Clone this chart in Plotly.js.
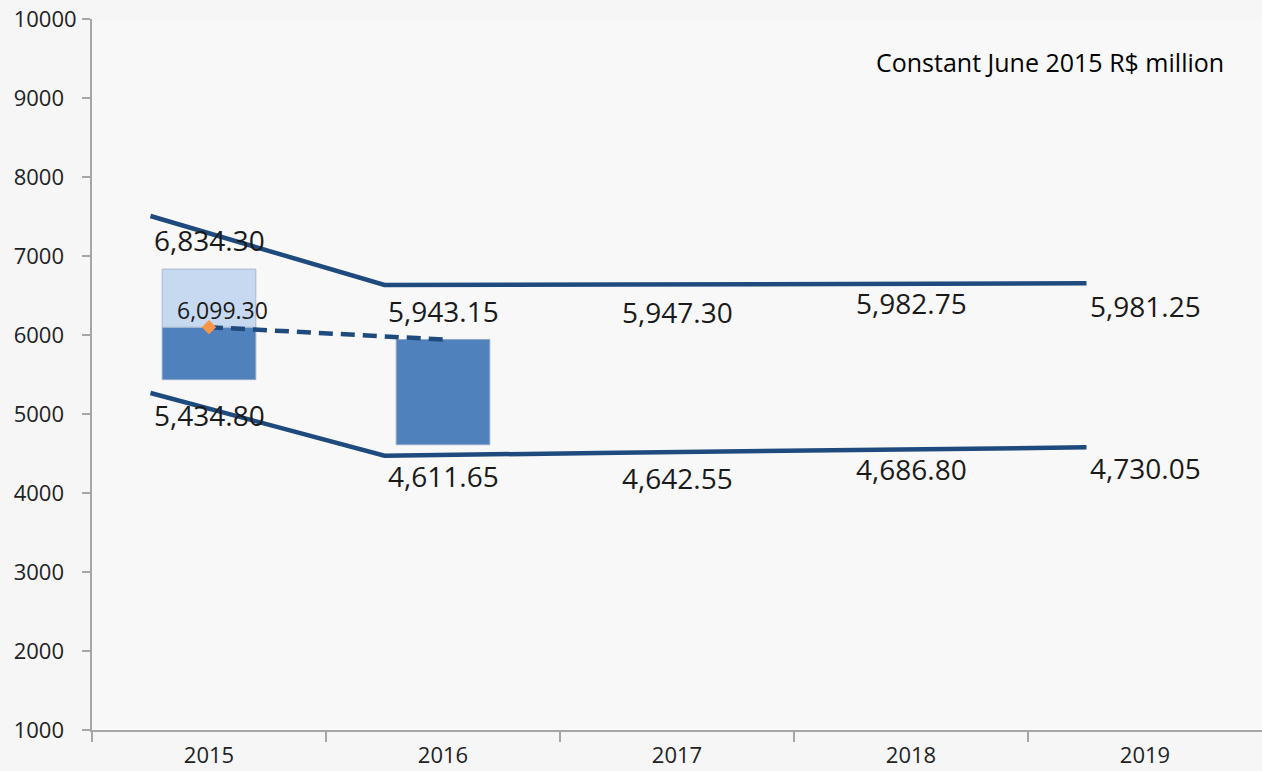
<!DOCTYPE html>
<html>
<head>
<meta charset="utf-8">
<script src="https://cdn.plot.ly/plotly-3.0.1.min.js"></script>
<style>html,body{margin:0;padding:0;background:#f6f6f6;}#chart{width:1262px;height:771px;}</style>
</head>
<body>
<div id="chart"></div>
<script>
// ---- data ----
var years = ['2015', '2016', '2017', '2018', '2019'];
var upperLine = [7506, 6633, 6638, 6646, 6654];
var lowerLine = [5266, 4472, 4510, 4545, 4578];
var upperLabels = ['6,834.30', '5,943.15', '5,947.30', '5,982.75', '5,981.25'];
var lowerLabels = ['5,434.80', '4,611.65', '4,642.55', '4,686.80', '4,730.05'];
var barYears = ['2015', '2016'];
var barLow = [5434.80, 4611.65];
var barHigh = [6834.30, 5943.15];
var midValue = 6099.30;
var midLabel = '6,099.30';
var yTicks = [1000, 2000, 3000, 4000, 5000, 6000, 7000, 8000, 9000, 10000];
var unitNote = 'Constant June 2015 R$ million';

// ---- styles / positions ----
var navy = '#1f4a7e';
var darkBlue = '#4f81bd';
var lightBlue = '#c6d9f1';
var axisGrey = '#a6a6a6';
var lineOffset = -0.25;
var upperShift = [-24, -26, -27, -19, -23];
var lowerShift = [-22, -20, -25, -19, -21];
var font = 'Open Sans, Lato, sans-serif';

var idx = years.map(function (_, i) { return i; });
var lineX = idx.map(function (i) { return i + lineOffset; });
var barX = barYears.map(function (y) { return years.indexOf(y); });

// dark bars: low -> mid (2015), low -> high (2016)
var darkTop = [midValue, barHigh[1]];
var traces = [
  {
    type: 'bar', x: barX, base: barLow,
    y: barX.map(function (_, k) { return darkTop[k] - barLow[k]; }),
    width: 0.4, marker: { color: darkBlue, line: { color: '#8fa9cc', width: 1 } },
    hoverinfo: 'skip', showlegend: false
  },
  {
    type: 'bar', x: [barX[0]], base: [midValue], y: [barHigh[0] - midValue],
    width: 0.4, marker: { color: lightBlue, line: { color: '#a9b9cc', width: 1 } },
    hoverinfo: 'skip', showlegend: false
  },
  {
    type: 'scatter', mode: 'lines', x: lineX, y: upperLine,
    line: { color: navy, width: 4.5 }, hoverinfo: 'skip', showlegend: false
  },
  {
    type: 'scatter', mode: 'lines', x: lineX, y: lowerLine,
    line: { color: navy, width: 4.5 }, hoverinfo: 'skip', showlegend: false
  },
  {
    type: 'scatter', mode: 'lines', x: barX, y: [midValue, barHigh[1]],
    line: { color: navy, width: 4.5, dash: '14px,8px' }, hoverinfo: 'skip', showlegend: false
  },
  {
    type: 'scatter', mode: 'markers', x: [barX[0]], y: [midValue],
    marker: { symbol: 'diamond', color: '#f79646', size: 11 }, hoverinfo: 'skip', showlegend: false
  }
];

var annotations = [];
idx.forEach(function (i) {
  annotations.push({ x: i, y: upperLine[i], xref: 'x', yref: 'y', text: upperLabels[i], showarrow: false,
    yshift: upperShift[i], font: { family: font, size: 28, color: '#1a1a1a' } });
  annotations.push({ x: i, y: lowerLine[i], xref: 'x', yref: 'y', text: lowerLabels[i], showarrow: false,
    yshift: lowerShift[i], font: { family: font, size: 28, color: '#1a1a1a' } });
});
annotations.push({ x: barX[0], y: midValue, xref: 'x', yref: 'y', text: midLabel, showarrow: false,
  xshift: 13, yshift: 17, font: { family: font, size: 23, color: '#1a1a1a' } });
annotations.push({ x: 1, y: 1, xref: 'paper', yref: 'paper', xanchor: 'right', yanchor: 'middle',
  xshift: -36, yshift: -43, text: unitNote, showarrow: false,
  font: { family: font, size: 25, color: '#000000' } });

var layout = {
  width: 1262, height: 771,
  margin: { l: 92, r: 0, t: 19, b: 41 },
  paper_bgcolor: '#f6f6f6', plot_bgcolor: '#f8f8f8',
  barmode: 'overlay',
  xaxis: {
    range: [-0.5, 4.5], tickmode: 'array', tickvals: idx, ticktext: years,
    ticks: '', showgrid: false, zeroline: false,
    showline: true, linecolor: axisGrey, linewidth: 2,
    minor: { tickmode: 'array', tickvals: [-0.5, 0.5, 1.5, 2.5, 3.5], ticks: 'outside',
      ticklen: 10, tickwidth: 2, tickcolor: axisGrey, showgrid: false },
    ticklabelstandoff: 5,
    tickfont: { family: font, size: 22, color: '#222' }
  },
  yaxis: {
    range: [1000, 10000], tickmode: 'array', tickvals: yTicks,
    ticktext: yTicks.map(function (v) { return v < 10000 ? String(v) + '\u2007' : String(v); }),
    ticks: 'outside', ticklen: 8, tickwidth: 2, tickcolor: axisGrey,
    showgrid: false, zeroline: false, showline: true, linecolor: axisGrey, linewidth: 2,
    ticklabelstandoff: 1,
    tickfont: { family: font, size: 22, color: '#222' }
  },
  annotations: annotations
};

Plotly.newPlot('chart', traces, layout, { displayModeBar: false, staticPlot: true });
</script>
</body>
</html>
